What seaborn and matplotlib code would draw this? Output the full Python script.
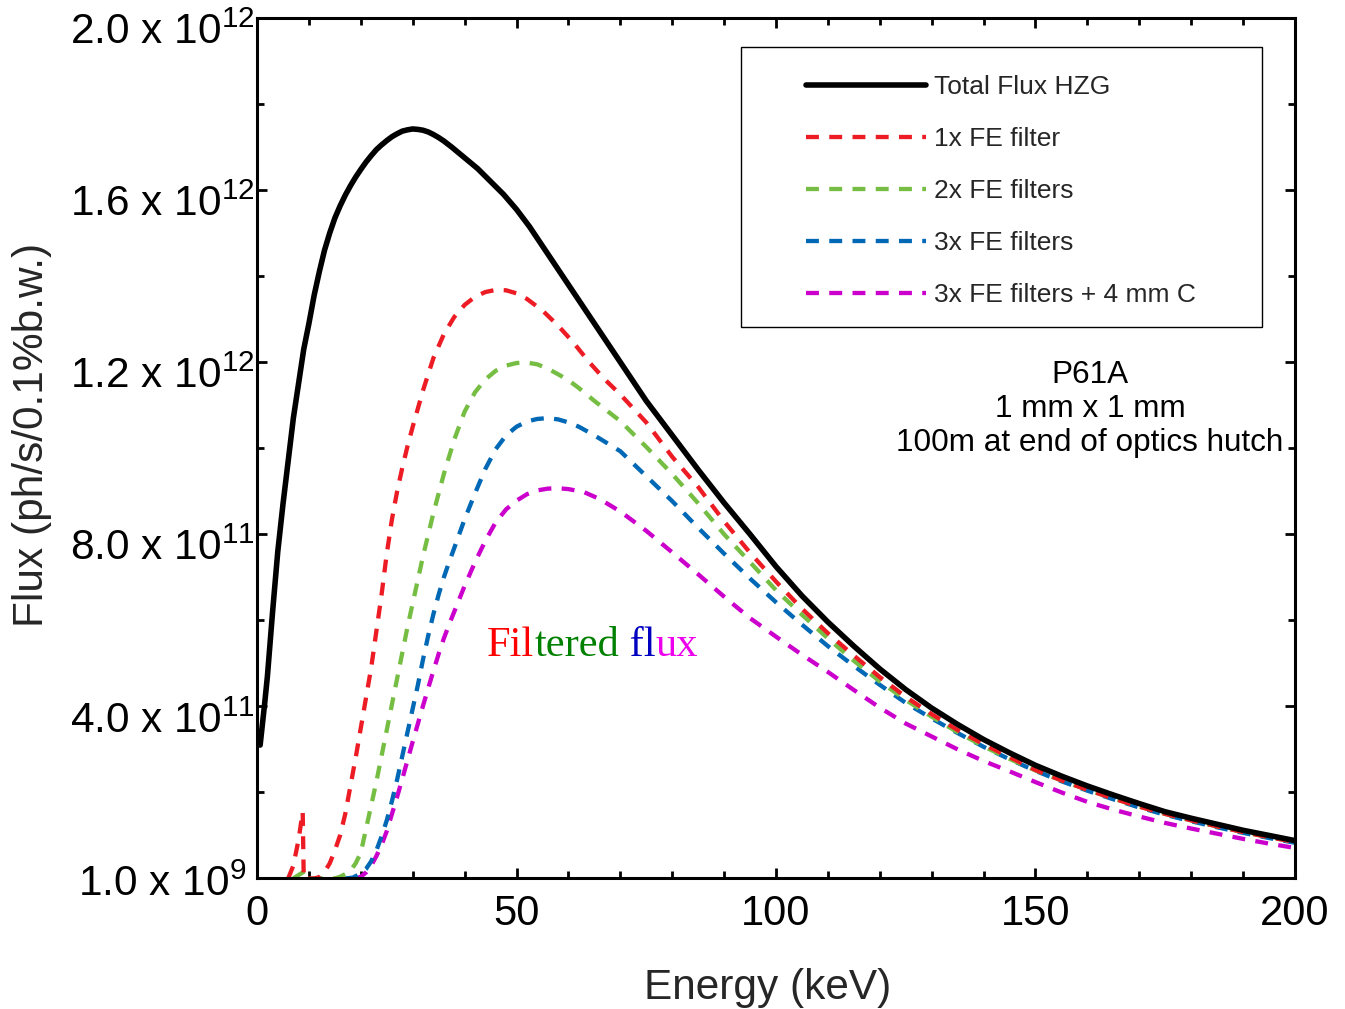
import numpy as np
import pandas as pd
import matplotlib
matplotlib.use("Agg")
import matplotlib.pyplot as plt
import matplotlib.transforms as mtransforms
import seaborn as sns
from matplotlib.patches import Rectangle
from matplotlib.ticker import MultipleLocator, FixedLocator

sns.set_theme(style="ticks")
plt.rcParams["font.family"] = ["Liberation Sans", "DejaVu Sans"]
plt.rcParams["mathtext.fontset"] = "custom"
plt.rcParams["mathtext.rm"] = "Liberation Sans"
plt.rcParams["mathtext.default"] = "regular"

# Flux spectra, values in units of 1e12 ph/s/0.1%b.w.
energy_total = [0.6, 1.5, 2, 3, 4, 5, 6, 7, 8, 9, 10, 11, 12, 13, 14, 15, 16, 17, 18, 19, 20,
                21, 22, 23, 24, 25, 26, 27, 28, 29, 30, 31, 32, 33, 34, 35, 36, 37.5, 40,
                42.5, 45, 47.5, 50, 52.5, 55, 57.5, 60, 62.5, 65, 67.5, 70, 72.5, 75, 77.5,
                80, 85, 90, 95, 100, 105, 110, 115, 120, 125, 130, 135, 140, 145, 150, 155,
                160, 165, 170, 175, 180, 185, 190, 195, 200]
flux_total = [0.31, 0.41, 0.47, 0.62, 0.76, 0.87, 0.97, 1.07, 1.15, 1.23, 1.29, 1.355, 1.41,
              1.46, 1.50, 1.535, 1.563, 1.588, 1.61, 1.63, 1.648, 1.665, 1.68, 1.694, 1.705,
              1.715, 1.724, 1.731, 1.737, 1.740, 1.742, 1.741, 1.739, 1.735, 1.729, 1.722,
              1.714, 1.70, 1.675, 1.65, 1.62, 1.59, 1.555, 1.515, 1.47, 1.425, 1.38, 1.335,
              1.29, 1.245, 1.20, 1.155, 1.11, 1.07, 1.03, 0.95, 0.873, 0.80, 0.725, 0.657,
              0.596, 0.540, 0.487, 0.439, 0.396, 0.358, 0.323, 0.292, 0.263, 0.238, 0.215,
              0.194, 0.174, 0.155, 0.140, 0.126, 0.112, 0.100, 0.088]

energy_fe1 = [6, 7, 8, 8.8, 9.0, 11, 12, 13, 14, 15, 16, 17, 18, 19, 20, 21, 22, 23, 24, 25,
              26, 27, 28, 29, 30, 32, 34, 36, 38, 40, 42, 44, 46, 48, 50, 52, 55, 58, 61, 64,
              67, 70, 75, 80, 85, 90, 95, 100, 105, 110, 115, 120, 125, 130, 135, 140, 145,
              150, 155, 160, 165, 170, 175, 180, 185, 190, 195, 200]
flux_fe1 = [0.0, 0.03, 0.09, 0.155, 0.0, 0.0, 0.003, 0.015, 0.035, 0.065, 0.10, 0.15, 0.215,
            0.28, 0.35, 0.42, 0.49, 0.575, 0.66, 0.755, 0.835, 0.90, 0.955, 1.005, 1.05, 1.135,
            1.21, 1.265, 1.305, 1.333, 1.352, 1.363, 1.368, 1.367, 1.36, 1.347, 1.32, 1.285,
            1.245, 1.20, 1.16, 1.125, 1.06, 0.98, 0.91, 0.83, 0.757, 0.69, 0.627, 0.57, 0.518,
            0.468, 0.422, 0.382, 0.345, 0.312, 0.282, 0.252, 0.228, 0.206, 0.186, 0.167,
            0.150, 0.135, 0.121, 0.108, 0.096, 0.085]

energy_fe2 = [7, 8, 8.8, 9.0, 15, 16, 17, 18, 19, 20, 21, 22, 23, 24, 25, 26, 27, 28, 29, 30,
              31, 32, 33, 34, 35, 36, 38, 40, 42, 44, 46, 48, 50, 52, 54, 56, 58, 60, 62, 65,
              70, 75, 80, 85, 90, 95, 100, 105, 110, 115, 120, 125, 130, 135, 140, 145, 150,
              155, 160, 165, 170, 175, 180, 185, 190, 195, 200]
flux_fe2 = [0.0, 0.008, 0.014, 0.0, 0.0, 0.004, 0.01, 0.018, 0.035, 0.06, 0.115, 0.17, 0.225,
            0.285, 0.345, 0.405, 0.465, 0.525, 0.585, 0.64, 0.695, 0.75, 0.80, 0.85, 0.895,
            0.94, 1.02, 1.085, 1.13, 1.16, 1.18, 1.192, 1.198, 1.199, 1.195, 1.185, 1.172,
            1.158, 1.14, 1.11, 1.063, 1.003, 0.94, 0.872, 0.80, 0.735, 0.670, 0.613, 0.558,
            0.506, 0.458, 0.415, 0.376, 0.340, 0.307, 0.278, 0.251, 0.228, 0.206, 0.186,
            0.167, 0.150, 0.135, 0.121, 0.108, 0.096, 0.085]

energy_fe3 = [17, 18.5, 20, 21, 22, 23, 24, 25, 26, 27, 28, 29, 30, 31, 32, 33, 34, 35, 36, 37,
              38, 40, 42, 44, 46, 48, 50, 52, 54, 56, 58, 60, 62, 65, 70, 75, 80, 85, 90, 95,
              100, 105, 110, 115, 120, 125, 130, 135, 140, 145, 150, 155, 160, 165, 170, 175,
              180, 185, 190, 195, 200]
flux_fe3 = [0.0, 0.002, 0.012, 0.022, 0.04, 0.065, 0.098, 0.135, 0.18, 0.23, 0.285, 0.34,
            0.395, 0.45, 0.51, 0.565, 0.615, 0.66, 0.70, 0.735, 0.768, 0.835, 0.895, 0.952,
            0.998, 1.03, 1.05, 1.062, 1.068, 1.07, 1.067, 1.06, 1.05, 1.03, 0.993, 0.935,
            0.877, 0.815, 0.755, 0.697, 0.642, 0.59, 0.54, 0.494, 0.45, 0.408, 0.372, 0.338,
            0.306, 0.277, 0.250, 0.226, 0.204, 0.184, 0.165, 0.148, 0.133, 0.119, 0.106,
            0.094, 0.083]

energy_fe3c = [19, 20, 21, 22, 23, 24, 25, 26, 27, 28, 29, 30, 31, 32, 33, 34, 35, 36, 37, 38,
               40, 42, 44, 46, 48, 50, 52, 54, 56, 58, 60, 63, 66, 70, 75, 80, 85, 90, 95, 100,
               105, 110, 115, 120, 125, 130, 135, 140, 145, 150, 155, 160, 165, 170, 175, 180,
               185, 190, 195, 200]
flux_fe3c = [0.0, 0.004, 0.014, 0.03, 0.052, 0.078, 0.11, 0.15, 0.19, 0.232, 0.275, 0.318,
             0.36, 0.402, 0.443, 0.483, 0.522, 0.558, 0.59, 0.62, 0.68, 0.735, 0.785, 0.828,
             0.858, 0.878, 0.893, 0.902, 0.906, 0.907, 0.905, 0.898, 0.882, 0.853, 0.808,
             0.758, 0.707, 0.655, 0.605, 0.562, 0.52, 0.48, 0.438, 0.397, 0.360, 0.330, 0.300,
             0.273, 0.249, 0.224, 0.200, 0.178, 0.160, 0.144, 0.129, 0.116, 0.104, 0.092,
             0.081, 0.071]

series_labels = ["Total Flux HZG", "1x FE filter", "2x FE filters", "3x FE filters",
                 "3x FE filters + 4 mm C"]
series_colors = ["#000000", "#ED1C24", "#76BE43", "#0068B5", "#CC00CC"]

ytick_values = [0.001, 0.4, 0.8, 1.2, 1.6, 2.0]
ytick_labels = ["1.0 x 10$^{9}$", "4.0 x 10$^{11}$", "8.0 x 10$^{11}$",
                "1.2 x 10$^{12}$", "1.6 x 10$^{12}$", "2.0 x 10$^{12}$"]
xtick_values = [0, 50, 100, 150, 200]

fig = plt.figure(figsize=(13.45, 10.09), dpi=100)
ax = fig.add_axes([0.1911, 0.1298, 0.7717, 0.8524])

dash = (0, (3.0, 2.4))
filtered = [(energy_fe1, flux_fe1), (energy_fe2, flux_fe2),
            (energy_fe3, flux_fe3), (energy_fe3c, flux_fe3c)]
handles = {}
for (e, f), lab, col in zip(filtered[::-1], series_labels[1:][::-1], series_colors[1:][::-1]):
    sns.lineplot(x=e, y=f, ax=ax, color=col, lw=3.1, linestyle=dash,
                 sort=False, estimator=None, legend=False)
    handles[lab] = ax.get_lines()[-1]
sns.lineplot(x=energy_total, y=flux_total, ax=ax, color=series_colors[0], lw=4.0,
             sort=False, estimator=None, legend=False)
handles[series_labels[0]] = ax.get_lines()[-1]

ax.set_xlim(0, 200)
ax.set_ylim(0.001, 2.0)
ax.xaxis.set_major_locator(FixedLocator(xtick_values))
ax.xaxis.set_minor_locator(MultipleLocator(10))
ax.yaxis.set_major_locator(FixedLocator(ytick_values))
ax.yaxis.set_minor_locator(FixedLocator([0.2, 0.6, 1.0, 1.4, 1.8]))
ax.set_yticklabels(ytick_labels)
ax.set_xticklabels([str(v) for v in xtick_values])

for s in ax.spines.values():
    s.set_linewidth(2.2)
    s.set_color("black")
ax.tick_params(which="both", direction="in", top=True, right=True, width=2.0,
               color="black", labelcolor="black")
ax.tick_params(which="major", length=7.5)
ax.tick_params(which="minor", length=5)
ax.tick_params(axis="x", which="major", labelsize=30, pad=11.5)
ax.tick_params(axis="y", which="major", labelsize=30.5, pad=1.5)

# drop the y tick labels slightly below their ticks; keep the lowest one clear of "0"
for i, lab in enumerate(ax.get_yticklabels()):
    dx, dy = (-9.0, -2.5) if i == 0 else (0.0, -10.5)
    lab.set_transform(lab.get_transform() +
                      mtransforms.ScaledTranslation(dx / 100, dy / 100, fig.dpi_scale_trans))

ax.set_xlabel("Energy (keV)", fontsize=30.5)
ax.set_ylabel("Flux (ph/s/0.1%b.w.)", fontsize=30.5)
ax.xaxis.set_label_coords(0.4923, -0.1045)
ax.yaxis.set_label_coords(-0.1975, 0.515)

# legend with a separate outline box
leg = ax.legend([handles[l] for l in series_labels], series_labels, loc="upper left",
                bbox_to_anchor=(0.5165, 0.949), frameon=False, borderpad=0,
                fontsize=19, handlelength=4.55, handletextpad=0.3,
                labelspacing=1.06)
ax.add_patch(Rectangle((0.4663, 0.6407), 0.5019, 0.3256, transform=ax.transAxes,
                       fill=False, ec="black", lw=1.0, zorder=5))

ax.text(160.5, 1.206, "P61A\n1 mm x 1 mm\n100m at end of optics hutch",
        ha="center", va="top", multialignment="center", fontsize=22.7,
        linespacing=1.18, color="black")

# multi-coloured annotation
pieces = [("Fil", "#FF0000"), ("tered", "#008000"), (" fl", "#0000C0"), ("ux", "#EE00EE")]
prev = ax.text(44.3, 0.518, pieces[0][0], color=pieces[0][1], fontsize=30.5,
               family="Liberation Serif", va="baseline", ha="left")
for txt, col in pieces[1:]:
    prev = ax.annotate(txt, xy=(1, 0), xycoords=prev, color=col, fontsize=30.5,
                       family="Liberation Serif", va="bottom", ha="left")

fig.savefig("out.png", dpi=100, facecolor="white")
